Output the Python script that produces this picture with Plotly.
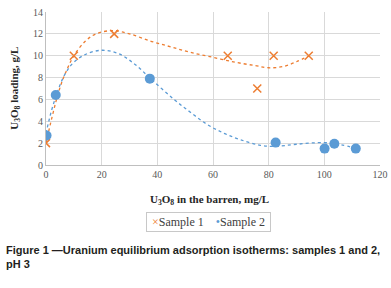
import plotly.graph_objects as go

# Measured data
s1_x = [0, 10, 24.5, 65.3, 75.9, 81.8, 94.4]
s1_y = [2.0, 10.0, 12.0, 10.0, 7.0, 10.0, 10.0]
s2_x = [0.2, 3.5, 37.3, 82.5, 100.1, 103.6, 111.3]
s2_y = [2.7, 6.4, 7.9, 2.05, 1.5, 1.95, 1.5]

# Trendlines
t1_x = [0, 2, 4, 6, 8, 10, 14, 18, 24, 30, 38, 45, 52, 60, 68, 75, 80, 85, 90, 94.5]
t1_y = [2.0, 4.2, 6.2, 7.8, 9.0, 10.0, 11.3, 12.0, 12.3, 12.0, 11.3, 10.8, 10.3, 9.85, 9.4, 9.1, 8.9, 9.0, 9.45, 10.0]
t2_x = [0, 2, 4, 6, 8, 10, 14, 20, 26, 32, 38, 46, 52, 58, 64, 70, 77, 82, 90, 100, 106, 111.5]
t2_y = [2.9, 5.0, 6.6, 7.9, 8.8, 9.4, 10.1, 10.5, 10.2, 9.2, 7.8, 6.0, 4.8, 3.7, 2.9, 2.3, 1.8, 1.7, 1.9, 2.05, 1.85, 1.5]

x_ticks = [0, 20, 40, 60, 80, 100, 120]
y_ticks = [0, 2, 4, 6, 8, 10, 12, 14]
series_names = ["Sample 1", "Sample 2"]

orange = "#ED7D31"
blue = "#5B9BD5"
serif = "Liberation Serif"

fig = go.Figure()
fig.add_trace(go.Scatter(x=t1_x, y=t1_y, mode="lines", line=dict(color=orange, width=1.3, dash="dot", shape="spline"),
                         showlegend=False, hoverinfo="skip"))
fig.add_trace(go.Scatter(x=t2_x, y=t2_y, mode="lines", line=dict(color=blue, width=1.3, dash="dot", shape="spline"),
                         showlegend=False, hoverinfo="skip"))
fig.add_trace(go.Scatter(x=s1_x, y=s1_y, mode="markers", name=series_names[0], showlegend=False,
                         marker=dict(symbol="x-thin-open", size=8, color=orange, line=dict(color=orange, width=1.5))))
fig.add_trace(go.Scatter(x=s2_x, y=s2_y, mode="markers", name=series_names[1], showlegend=False,
                         marker=dict(symbol="circle", size=10, color=blue)))

fig.update_layout(
    width=391, height=288,
    margin=dict(l=46, r=11, t=12, b=123),
    paper_bgcolor="white", plot_bgcolor="white",
    font=dict(family=serif, size=10, color="#404040"),
    xaxis=dict(range=[0, 120], tickvals=x_ticks, showgrid=True, gridcolor="#d9d9d9", gridwidth=1,
               zeroline=False, showline=True, linecolor="#bfbfbf", ticks="", automargin=False,
               tickfont=dict(size=10, color="#595959")),
    yaxis=dict(range=[0, 14], tickvals=y_ticks, showgrid=True, gridcolor="#d9d9d9", gridwidth=1,
               zeroline=False, showline=True, linecolor="#bfbfbf", ticks="", automargin=False,
               tickfont=dict(size=10, color="#595959")),
    showlegend=False,
)

# legend box (compact, as in the reference)
legend_text = (f" <span style='color:{orange}'>\u00d7</span>{series_names[0]}    "
               f"<span style='color:{blue}'>\u2022</span>{series_names[1]} ")
fig.add_annotation(text=legend_text, xref="paper", yref="paper", x=0.487, y=-0.37,
                   xanchor="center", yanchor="middle", showarrow=False,
                   bordercolor="#c8c8c8", borderwidth=1, borderpad=2, bgcolor="white",
                   font=dict(family=serif, size=12, color="#404040"))

fig.add_annotation(text="<b>U<sub>3</sub>O<sub>8</sub> loading, g/L</b>", xref="paper", yref="paper",
                   x=-0.095, y=0.5, xanchor="center", yanchor="middle", textangle=-90, showarrow=False,
                   font=dict(family=serif, size=11, color="#262626"))
fig.add_annotation(text="<b>U<sub>3</sub>O<sub>8</sub> in the barren, mg/L</b>", xref="paper", yref="paper",
                   x=0.49, y=-0.23, xanchor="center", yanchor="middle", showarrow=False,
                   font=dict(family=serif, size=11, color="#262626"))
fig.add_annotation(text="<b>Figure 1 \u2014Uranium equilibrium adsorption isotherms: samples 1 and 2,<br>pH 3</b>",
                   xref="paper", yref="paper", x=-0.125, y=-0.5, xanchor="left", yanchor="top", align="left",
                   showarrow=False, font=dict(family="Liberation Sans", size=11, color="#231f20"))

fig.write_html("out.html", config={"displayModeBar": False}, post_script="document.body.style.margin='0';")
